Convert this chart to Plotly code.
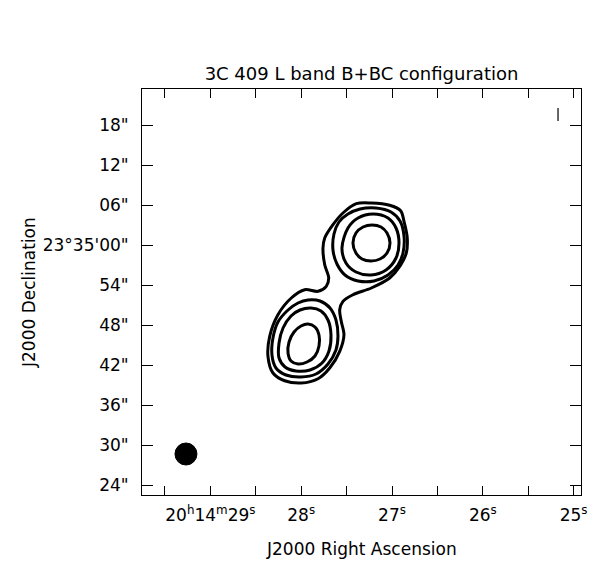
import plotly.graph_objects as go

# RA in seconds of time after 20h14m, Dec in arcsec offset from +23d35'00"
outer_ra = [27.393, 27.228, 27.026, 26.905, 26.868, 26.832, 26.843, 26.915, 27.026, 27.228,
            27.430, 27.540, 27.576, 27.559, 27.529, 27.576, 27.686, 27.815, 27.999, 28.182,
            28.311, 28.366, 28.347, 28.256, 28.109, 27.961, 27.815, 27.724, 27.697, 27.741,
            27.760, 27.741, 27.650, 27.540]
outer_dec = [6.2, 6.3, 5.96, 5.15, 3.56, 1.05, -1.2, -3.2, -4.95, -6.45,
             -7.46, -8.45, -9.71, -11.45, -13.46, -15.95, -18.45, -20.06, -20.7, -20.36,
             -19.2, -16.7, -13.7, -10.46, -7.95, -6.71, -6.95, -6.2, -4.95, -2.96,
             -0.45, 1.05, 3.05, 4.8]

ne2_ra = [27.485, 27.352, 27.176, 27.011, 26.912, 26.868, 26.879, 26.934, 27.044, 27.198,
          27.374, 27.518, 27.606, 27.650, 27.639, 27.584]
ne2_dec = [4.65, 5.4, 5.55, 4.95, 3.6, 1.35, -1.2, -3.0, -4.5, -5.4,
           -5.4, -4.5, -2.85, -0.75, 1.65, 3.45]

ne3_ra = [27.485, 27.374, 27.209, 27.044, 26.956, 26.923, 26.956, 27.066, 27.231, 27.397, 27.507, 27.551]
ne3_dec = [2.55, 4.05, 4.65, 4.05, 2.55, 0.3, -1.95, -3.75, -4.5, -4.05, -2.7, -0.45]

ne4_ra = [27.430, 27.397, 27.319, 27.220, 27.121, 27.055, 27.022, 27.055, 27.132, 27.231, 27.330, 27.397]
ne4_dec = [0.3, 1.8, 2.7, 3.0, 2.7, 1.8, 0.3, -1.2, -2.1, -2.4, -2.1, -1.2]

sw2_ra = [27.925, 27.793, 27.683, 27.617, 27.595, 27.617, 27.705, 27.837, 28.002, 28.167,
          28.278, 28.322, 28.311, 28.256, 28.145, 28.035]
sw2_dec = [-8.25, -8.4, -9.45, -11.25, -13.65, -15.75, -17.85, -19.35, -19.8, -19.5,
           -18.45, -16.5, -13.95, -11.55, -9.75, -8.7]

sw3_ra = [27.892, 27.782, 27.705, 27.672, 27.694, 27.771, 27.903, 28.057, 28.178, 28.244,
          28.244, 28.200, 28.112, 28.013]
sw3_dec = [-9.45, -9.9, -11.25, -13.5, -15.9, -17.7, -18.75, -18.9, -18.3, -16.95,
           -14.7, -12.45, -10.65, -9.75]

sw4_ra = [27.925, 27.848, 27.804, 27.804, 27.848, 27.936, 28.035, 28.112, 28.145, 28.134, 28.079, 28.002]
sw4_dec = [-11.85, -12.3, -13.5, -15.15, -16.65, -17.55, -17.85, -17.4, -16.2, -14.55, -13.05, -12.15]

# restoring beam (centre RA s, centre Dec offset ", width in s, height in ")
beam_ra = 29.269
beam_dec = -31.35
beam_w = 0.242
beam_h = 3.3

# scale bar top right
bar_ra = [25.172, 25.172]
bar_dec = [20.55, 18.6]

ra_ticks = [29.5, 29.0, 28.5, 28.0, 27.5, 27.0, 26.5, 26.0, 25.5, 25.0]
ra_labels = ["", "20<sup>h</sup>14<sup>m</sup>29<sup>s</sup>", "", "28<sup>s</sup>", "",
             "27<sup>s</sup>", "", "26<sup>s</sup>", "", "25<sup>s</sup>"]
dec_ticks = [18, 12, 6, 0, -6, -12, -18, -24, -30, -36]
dec_labels = ['18"', '12"', '06"', "23°35'00\"", '54"', '48"', '42"', '36"', '30"', '24"']

contours = [(outer_ra, outer_dec), (ne2_ra, ne2_dec), (ne3_ra, ne3_dec), (ne4_ra, ne4_dec),
            (sw2_ra, sw2_dec), (sw3_ra, sw3_dec), (sw4_ra, sw4_dec)]

fig = go.Figure()
for ra, dec in contours:
    fig.add_trace(go.Scatter(x=ra + ra[:1], y=dec + dec[:1], mode="lines",
                             line=dict(color="black", width=3, shape="spline", smoothing=0.9),
                             hoverinfo="skip"))

fig.add_trace(go.Scatter(x=bar_ra, y=bar_dec, mode="lines",
                         line=dict(color="black", width=1.2), hoverinfo="skip"))

fig.add_shape(type="circle", xref="x", yref="y",
              x0=beam_ra - beam_w / 2, x1=beam_ra + beam_w / 2,
              y0=beam_dec - beam_h / 2, y1=beam_dec + beam_h / 2,
              fillcolor="black", line=dict(color="black", width=1))

font = dict(family="DejaVu Sans", size=17, color="black")

fig.update_layout(
    width=603, height=581,
    margin=dict(l=134, r=30, t=81, b=94),
    paper_bgcolor="white", plot_bgcolor="white",
    showlegend=False,
    font=font,
    title=dict(text="3C 409 L band B+BC configuration", x=0.5, xref="paper",
               xanchor="center", y=1 - 66 / 581, yanchor="middle",
               font=dict(family="DejaVu Sans", size=18, color="black")),
)

fig.update_xaxes(range=[29.753, 24.919], tickvals=ra_ticks, ticktext=ra_labels,
                 ticks="inside", ticklen=9, tickwidth=1, tickcolor="black",
                 showline=True, linecolor="black", linewidth=1, mirror="ticks",
                 showgrid=False, zeroline=False, ticklabelstandoff=5, tickfont=font)
fig.update_yaxes(range=[-37.5, 23.4], tickvals=dec_ticks, ticktext=dec_labels,
                 ticks="inside", ticklen=11, tickwidth=1, tickcolor="black",
                 showline=True, linecolor="black", linewidth=1, mirror="ticks",
                 showgrid=False, zeroline=False, ticklabelstandoff=9, tickfont=font)

fig.add_annotation(text="J2000 Right Ascension", xref="paper", yref="paper",
                   x=0.5, y=-54 / 406, xanchor="center", yanchor="middle",
                   showarrow=False, font=font)
fig.add_annotation(text="J2000 Declination", xref="paper", yref="paper",
                   x=(21 - 134) / 439, y=0.5, xanchor="center", yanchor="middle",
                   textangle=-90, showarrow=False, font=font)

fig.write_html("out.html")
